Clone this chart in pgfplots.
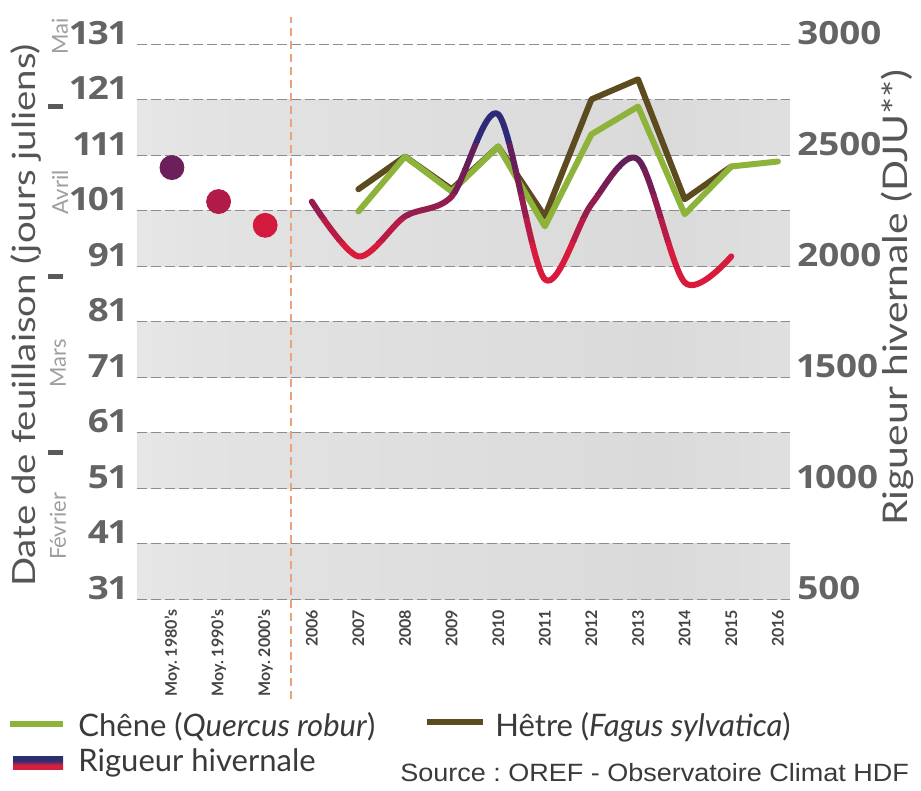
\documentclass[border=0pt]{standalone}
\usepackage{fontspec}
\setmainfont{Lato}
\newfontfamily\osans[FakeStretch=1.15, Numbers=Proportional]{Open Sans}
\newfontfamily\titlefont[FakeStretch=1.2]{Lato}
\newfontfamily\arialf[FakeStretch=1.08]{Liberation Sans}
\usepackage{pgfplots}
\usepackage{pgfplotstable}
\pgfplotsset{compat=1.18}
\frenchspacing
\definecolor{chene}{HTML}{8DB33A}
\definecolor{hetre}{HTML}{5C4B1E}
\definecolor{tickgray}{HTML}{646464}
\definecolor{titlegray}{HTML}{555555}
\definecolor{monthgray}{HTML}{9E9E9E}
\definecolor{bargray}{HTML}{5A5A5A}
\definecolor{xlab}{HTML}{444444}
\definecolor{legtext}{HTML}{3A3A3A}
\definecolor{gridgray}{HTML}{8C8C8C}
\definecolor{vline}{HTML}{E9A27A}
\definecolor{rg1}{HTML}{D81A3D}
\definecolor{rg2}{HTML}{B81B45}
\definecolor{rg3}{HTML}{951C4E}
\definecolor{rg4}{HTML}{771D55}
\definecolor{rg5}{HTML}{632058}
\definecolor{rg6}{HTML}{2E2A78}
\definecolor{legnavy}{HTML}{2B2F70}
\definecolor{legred}{HTML}{D4203F}
\definecolor{bandA}{HTML}{F7F7F7}
\definecolor{bandB}{HTML}{E3E3E3}
\definecolor{bandC}{HTML}{DADADA}
\definecolor{bandD}{HTML}{EEEEEE}
\pgfdeclarehorizontalshading{bandshade}{100bp}{color(0bp)=(bandA); color(30bp)=(bandB); color(65bp)=(bandC); color(100bp)=(bandD)}
\pgfdeclareverticalshading{rigleg}{100bp}{color(0bp)=(legred); color(42bp)=(legred); color(58bp)=(legnavy); color(100bp)=(legnavy)}

\pgfplotstableread{
x y
4 100.9
5 110.8
6 104.5
7 112.6
8 98.2
9 114.8
10 119.8
11 100.4
12 109.0
13 109.9
}\chenetable
\pgfplotstableread{
x y
4 104.9
5 110.8
6 104.9
7 112.6
8 100.0
9 121.1
10 124.7
11 103.1
12 109.0
}\hetretable
\pgfplotstableread{
x y
3 2292
4 2045
5 2225
6 2315
7 2685
8 1942
9 2280
10 2482
11 1928
12 2045
}\rigtable

\begin{document}
\begin{tikzpicture}
\path (0,0) rectangle (460.5pt,390.5pt);
\begin{axis}[
  at={(68.5pt,95.5pt)}, anchor=south west,
  scale only axis, width=326.5pt, height=277.5pt,
  xmin=-0.75, xmax=13.26, ymin=31, ymax=131,
  axis line style={draw=none},
  major tick length=0pt,
  xtick={0,1,2,3,4,5,6,7,8,9,10,11,12,13},
  xticklabels={Moy. 1980’s, Moy. 1990’s, Moy. 2000’s, 2006, 2007, 2008, 2009, 2010, 2011, 2012, 2013, 2014, 2015, 2016},
  xticklabel style={rotate=90, anchor=east, inner sep=0pt, font=\fontsize{8}{8}\selectfont\bfseries, text=xlab},
  xticklabel shift=5pt,
  ytick={31,41,...,131},
  yticklabel style={anchor=base east, inner sep=0pt, font=\osans\bfseries\fontsize{16}{16}\selectfont, text=tickgray},
  yticklabel shift=5pt,
  /pgf/number format/assume math mode=true,
  clip=false,
]
\path[shading=bandshade] (axis cs:-0.75,31) rectangle (axis cs:13.26,41);
\path[shading=bandshade] (axis cs:-0.75,51) rectangle (axis cs:13.26,61);
\path[shading=bandshade] (axis cs:-0.75,71) rectangle (axis cs:13.26,81);
\path[shading=bandshade] (axis cs:-0.75,91) rectangle (axis cs:13.26,101);
\path[shading=bandshade] (axis cs:-0.75,111) rectangle (axis cs:13.26,121);
\pgfplotsinvokeforeach{31,41,51,61,71,81,91,101,111,121,131}{
  \draw[gridgray, line width=0.6pt, dash pattern=on 5pt off 2pt] (axis cs:-0.75,#1) -- (axis cs:13.26,#1);
}
\draw[vline, line width=0.7pt, dash pattern=on 4pt off 2.5pt] (axis cs:2.55,13) -- (axis cs:2.55,135.9);
\addplot[hetre, line width=3pt, line join=round, line cap=round] table {\hetretable};
\addplot[chene, line width=3pt, line join=round, line cap=round] table {\chenetable};
\end{axis}

\begin{axis}[
  at={(68.5pt,95.5pt)}, anchor=south west,
  scale only axis, width=326.5pt, height=277.5pt,
  xmin=-0.75, xmax=13.26, ymin=500, ymax=3000,
  axis y line*=right, axis x line=none,
  axis line style={draw=none},
  major tick length=0pt,
  ytick={500,1000,...,3000},
  yticklabel style={anchor=base west, inner sep=0pt, font=\osans\bfseries\fontsize{16}{16}\selectfont, text=tickgray},
  yticklabel shift=3.5pt,
  /pgf/number format/1000 sep={},
  /pgf/number format/assume math mode=true,
  clip=false,
]
\pgfplotsset{rigstyle/.style={smooth, line width=3pt, line join=round, line cap=round}}
\begin{scope}
\clip (axis cs:-1,0) rectangle (axis cs:14,2110);
\addplot[rigstyle, rg1] table {\rigtable};
\end{scope}
\begin{scope}
\clip (axis cs:-1,2110) rectangle (axis cs:14,2220);
\addplot[rigstyle, rg2] table {\rigtable};
\end{scope}
\begin{scope}
\clip (axis cs:-1,2220) rectangle (axis cs:14,2330);
\addplot[rigstyle, rg3] table {\rigtable};
\end{scope}
\begin{scope}
\clip (axis cs:-1,2330) rectangle (axis cs:14,2440);
\addplot[rigstyle, rg4] table {\rigtable};
\end{scope}
\begin{scope}
\clip (axis cs:-1,2440) rectangle (axis cs:14,2560);
\addplot[rigstyle, rg5] table {\rigtable};
\end{scope}
\begin{scope}
\clip (axis cs:-1,2560) rectangle (axis cs:14,3200);
\addplot[rigstyle, rg6] table {\rigtable};
\end{scope}
\addplot[only marks, mark=*, mark size=6pt, color=rg4!85!rg6] coordinates {(0,2445)};
\addplot[only marks, mark=*, mark size=6pt, color=rg2!80!rg3] coordinates {(1,2292)};
\addplot[only marks, mark=*, mark size=6pt, color=rg1!85!rg2] coordinates {(2,2185)};
\end{axis}

% axis titles
\node[rotate=90, inner sep=0pt, font=\titlefont\fontsize{16}{16}\selectfont, text=titlegray] at (13pt,237.5pt) {Date de feuillaison (jours juliens)};
\node[rotate=90, inner sep=0pt, font=\titlefont\fontsize{17}{17}\selectfont, text=titlegray] at (448.5pt,246.5pt) {Rigueur hivernale (DJU**)};
% month annotations
\node[rotate=90, inner sep=0pt, font=\fontsize{11}{11}\selectfont, text=monthgray] at (30pt,377pt) {Mai};
\node[rotate=90, inner sep=0pt, font=\fontsize{11}{11}\selectfont, text=monthgray] at (30pt,299pt) {Avril};
\node[rotate=90, inner sep=0pt, font=\fontsize{11}{11}\selectfont, text=monthgray] at (29pt,213.5pt) {Mars};
\node[rotate=90, inner sep=0pt, font=\fontsize{11}{11}\selectfont, text=monthgray] at (29pt,132pt) {Février};
\fill[bargray] (23.75pt,340.75pt) rectangle (31.25pt,343.25pt);
\fill[bargray] (23.75pt,255.75pt) rectangle (31.25pt,258.25pt);
\fill[bargray] (23.75pt,167.75pt) rectangle (31.25pt,170.25pt);
% legend
\draw[chene, line width=3pt] (5pt,33pt) -- (31.5pt,33pt);
\node[anchor=base west, inner sep=0pt, font=\fontsize{15.5}{15.5}\selectfont, text=legtext] at (39pt,27pt) {Chêne (\textit{Quercus robur})};
\draw[hetre, line width=3pt] (213.5pt,34pt) -- (241.5pt,34pt);
\node[anchor=base west, inner sep=0pt, font=\fontsize{15.5}{15.5}\selectfont, text=legtext] at (247.5pt,27pt) {Hêtre (\textit{Fagus sylvatica})};
\shade[shading=rigleg] (6.5pt,10.5pt) rectangle (31.5pt,17pt);
\node[anchor=base west, inner sep=0pt, font=\fontsize{15.5}{15.5}\selectfont, text=legtext] at (39pt,9.5pt) {Rigueur hivernale};
\node[anchor=base west, inner sep=0pt, font=\arialf\fontsize{12.5}{12.5}\selectfont, text=legtext] at (200pt,4.6pt) {Source : OREF - Observatoire Climat HDF};
\end{tikzpicture}
\end{document}
